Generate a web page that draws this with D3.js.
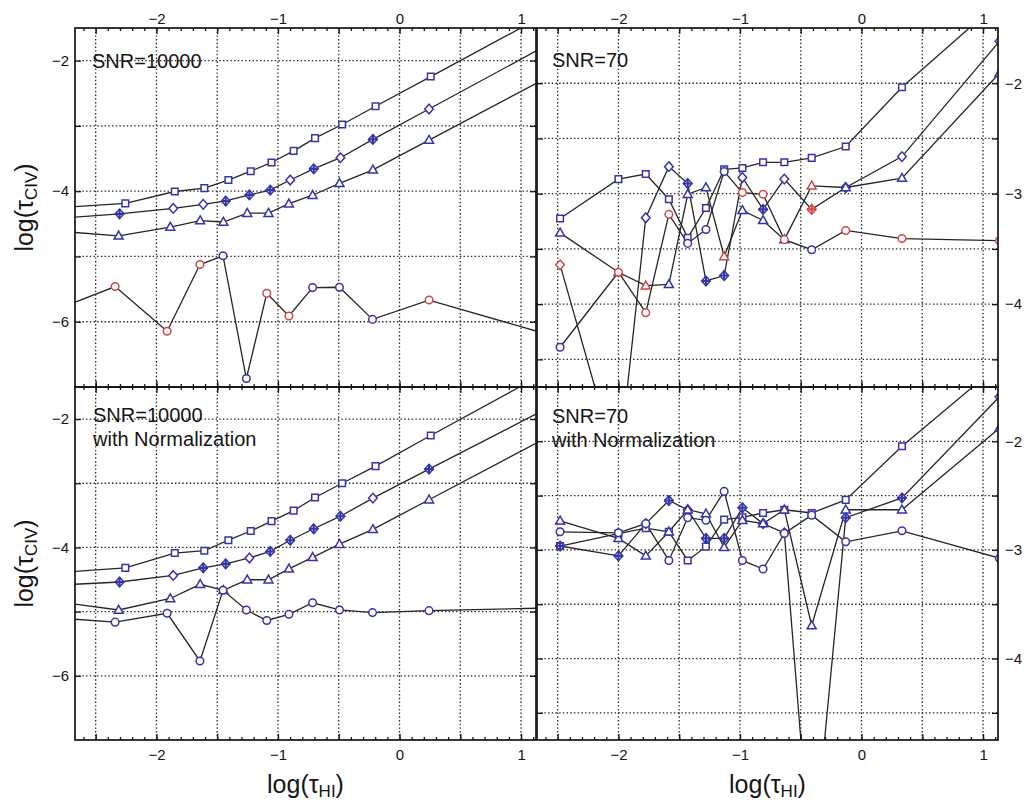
<!DOCTYPE html>
<html>
<head>
<meta charset="utf-8">
<script src="https://cdn.jsdelivr.net/npm/d3@7"></script>
<style>
  body { margin: 0; background: #fff; }
  svg { display: block; font-family: "Liberation Sans", Arial, Helvetica, sans-serif; }
</style>
</head>
<body>
<svg id="chart" width="1027" height="807"></svg>
<script>
// ---------------------------------------------------------------
// Binned log(tau_CIV) vs log(tau_HI) for four recovery set-ups.
// Left panels: the first and last bins sit outside the plotted range.
// ---------------------------------------------------------------
const xSquareL   = [-2.9, -2.256, -1.849, -1.606, -1.408, -1.224, -1.053, -0.871, -0.695, -0.472, -0.197, 0.257, 1.3];
const xDiamondL  = [-2.9, -2.303, -1.862, -1.615, -1.430, -1.235, -1.064, -0.899, -0.706, -0.486, -0.219, 0.243, 1.3];
const xTriangleL = [-2.9, -2.311, -1.886, -1.640, -1.449, -1.253, -1.078, -0.910, -0.715, -0.494, -0.219, 0.243, 1.3];
const xCircleL   = [-2.9, -2.340, -1.912, -1.642, -1.452, -1.260, -1.092, -0.910, -0.715, -0.494, -0.222, 0.243, 1.3];

// SNR = 10000
const ySquareTL   = [-4.264, -4.187, -4.005, -3.953, -3.829, -3.694, -3.560, -3.383, -3.187, -2.979, -2.699, -2.244, -1.197];
const yDiamondTL  = [-4.430, -4.347, -4.264, -4.202, -4.150, -4.057, -3.984, -3.829, -3.658, -3.487, -3.207, -2.741, -1.674];
const yTriangleTL = [-4.601, -4.684, -4.549, -4.451, -4.472, -4.337, -4.337, -4.192, -4.062, -3.881, -3.674, -3.218, -2.176];
const yCircleTL   = [-5.870, -5.461, -6.145, -5.124, -4.990, -6.870, -5.565, -5.912, -5.477, -5.472, -5.964, -5.668, -6.238];
const crossTL     = [1, 4, 5, 6, 8, 10];
const flagCircleTL = [0, 1, 1, 1, 0, 0, 1, 1, 0, 0, 0, 1, 0];

// SNR = 10000 with normalization
const ySquareBL   = [-4.404, -4.318, -4.087, -4.051, -3.887, -3.744, -3.590, -3.426, -3.221, -3.000, -2.733, -2.256, -1.175];
const yDiamondBL  = [-4.595, -4.538, -4.436, -4.318, -4.256, -4.164, -4.062, -3.887, -3.708, -3.513, -3.231, -2.779, -1.749];
const yTriangleBL = [-4.825, -4.974, -4.795, -4.574, -4.667, -4.503, -4.503, -4.333, -4.154, -3.949, -3.718, -3.256, -2.200];
const yCircleBL   = [-5.087, -5.164, -5.026, -5.769, -4.667, -4.974, -5.138, -5.041, -4.862, -4.974, -5.015, -4.985, -4.940];
const crossBL     = [1, 3, 4, 6, 7, 8, 9, 11];

// Right panels share one set of bins (last bin sits on the right edge)
const xBinR = [-2.48, -2.00, -1.775, -1.585, -1.43, -1.28, -1.13, -0.98, -0.81, -0.635, -0.41, -0.13, 0.333, 1.135];

// SNR = 70
const ySquareTR   = [-3.224, -2.868, -2.822, -3.050, -3.400, -3.130, -2.780, -2.767, -2.716, -2.716, -2.676, -2.573, -2.037, -1.260];
const yDiamondTR  = [-3.644, -5.500, -3.218, -2.755, -2.908, -3.790, -3.741, -2.853, -3.142, -2.868, -3.142, -2.944, -2.664, -1.620];
const yTriangleTR = [-3.355, -3.711, -3.833, -3.821, -3.005, -2.944, -3.568, -3.151, -3.242, -3.416, -2.929, -2.944, -2.859, -1.909];
const yCircleTR   = [-4.390, -3.711, -4.077, -3.187, -3.450, -3.324, -2.800, -2.990, -3.005, -3.416, -3.507, -3.333, -3.406, -3.425];
const crossTR     = [4, 5, 6, 8, 10, 11];
const flagDiamondTR  = [1, 0, 0, 0, 0, 0, 0, 0, 0, 0, 1, 0, 0, 0];
const flagTriangleTR = [0, 1, 1, 0, 0, 0, 1, 0, 0, 0, 1, 0, 0, 0];
const flagCircleTR   = [0, 1, 1, 1, 0, 0, 0, 1, 1, 1, 0, 1, 1, 1];

// SNR = 70 with normalization
const ySquareBR   = [-2.964, -2.850, -2.800, -2.833, -3.097, -2.970, -2.721, -2.700, -2.660, -2.630, -2.660, -2.539, -2.045, -1.293];
const yDiamondBR  = [-2.964, -3.055, -2.758, -2.545, -2.630, -2.894, -2.894, -2.612, -2.758, -2.843, -6.000, -2.703, -2.521, -1.590];
const yTriangleBR = [-2.733, -2.894, -3.055, -2.833, -2.630, -2.667, -2.976, -2.727, -2.758, -2.630, -3.697, -2.630, -2.630, -1.879];
const yCircleBR   = [-2.833, -2.843, -2.758, -3.097, -2.703, -2.727, -2.461, -3.097, -3.176, -2.848, -2.680, -2.925, -2.824, -3.076];
const crossBR     = [0, 1, 3, 5, 6, 7, 8, 11, 12];

// Axis values
const xDomain   = [-2.67, 1.123];
const xLabelVals = [-2, -1, 0, 1];
const xGridVals  = [-2.5, -2, -1.5, -1, -0.5, 0, 0.5, 1];
const xMinorVals = d3.range(-26, 12).map(v => v / 10);
const yGridLeft  = [-6, -5, -4, -3, -2];
const yLabelLeft = [-6, -4, -2];
const yGridRight = [-4.5, -4, -3.5, -3, -2.5, -2];
const yLabelRight = [-4, -3, -2];

// ---------------------------------------------------------------
const BLUE = "#3535aa", RED = "#d04848", INK = "#151515";
const intFmt = d3.format("d");
const svg = d3.select("#chart");

function series(shape, xs, ys, flags, cross) {
  return { shape, pts: xs.map((x, i) => ({ x, y: ys[i], red: flags ? !!flags[i] : false, cross: cross ? cross.includes(i) : false })) };
}

const panels = [
  { id: "tl", box: { l: 75, r: 536, t: 28, b: 387 }, yDomain: [-7, -1.5],
    yGrid: yGridLeft, yLabels: yLabelLeft, ySide: "left", xSide: "top",
    notes: ["SNR=10000"], note: [92, 68],
    data: [series("square", xSquareL, ySquareTL), series("diamond", xDiamondL, yDiamondTL, null, crossTL),
           series("triangle", xTriangleL, yTriangleTL), series("circle", xCircleL, yCircleTL, flagCircleTL)] },
  { id: "tr", box: { l: 537, r: 998, t: 28, b: 387 }, yDomain: [-4.75, -1.5],
    yGrid: yGridRight, yLabels: yLabelRight, ySide: "right", xSide: "top",
    notes: ["SNR=70"], note: [552, 67],
    data: [series("square", xBinR, ySquareTR), series("diamond", xBinR, yDiamondTR, flagDiamondTR, crossTR),
           series("triangle", xBinR, yTriangleTR, flagTriangleTR), series("circle", xBinR, yCircleTR, flagCircleTR)] },
  { id: "bl", box: { l: 75, r: 536, t: 387, b: 740 }, yDomain: [-7, -1.5],
    yGrid: yGridLeft, yLabels: yLabelLeft, ySide: "left", xSide: "bottom",
    notes: ["SNR=10000", "with Normalization"], note: [93, 422],
    data: [series("square", xSquareL, ySquareBL), series("diamond", xDiamondL, yDiamondBL, null, crossBL),
           series("triangle", xTriangleL, yTriangleBL), series("circle", xCircleL, yCircleBL)] },
  { id: "br", box: { l: 537, r: 998, t: 387, b: 740 }, yDomain: [-4.75, -1.5],
    yGrid: yGridRight, yLabels: yLabelRight, ySide: "right", xSide: "bottom",
    notes: ["SNR=70", "with Normalization"], note: [552, 423],
    data: [series("square", xBinR, ySquareBR), series("diamond", xBinR, yDiamondBR, null, crossBR),
           series("triangle", xBinR, yTriangleBR), series("circle", xBinR, yCircleBR)] }
];

const markerPath = {
  square: "M-3.3,-3.3H3.3V3.3H-3.3Z",
  circle: "M3.8,0A3.8,3.8 0 1,1 -3.8,0A3.8,3.8 0 1,1 3.8,0Z",
  triangle: "M0,-4.7L4.5,3.2L-4.5,3.2Z",
  diamond: "M0,-4.8L4.3,0L0,4.8L-4.3,0Z"
};
const crossPath = "M-4.7,0H4.7M0,-4.7V4.7";

function styleAxisText(g, anchor) {
  g.select(".domain").remove();
  g.selectAll("text").attr("font-size", 15).attr("fill", INK)
    .attr("font-family", "'Liberation Sans', Arial, sans-serif");
  if (anchor) g.selectAll("text").attr("text-anchor", anchor);
}
function styleTicks(g) {
  g.select(".domain").remove();
  g.selectAll("line").attr("stroke", INK).attr("stroke-width", 1.3);
}

panels.forEach(p => {
  const { l, r, t, b } = p.box;
  const x = d3.scaleLinear().domain(xDomain).range([l, r]);
  const y = d3.scaleLinear().domain(p.yDomain).range([b, t]);
  const g = svg.append("g").attr("class", "panel-" + p.id);

  g.append("clipPath").attr("id", "clip-" + p.id)
    .append("rect").attr("x", l).attr("y", t).attr("width", r - l).attr("height", b - t);

  // dotted grid
  const grid = g.append("g").attr("stroke", "#222").attr("stroke-width", 1.3)
    .attr("stroke-dasharray", "1.4,2.3");
  grid.selectAll("line.gx").data(xGridVals).join("line").attr("class", "gx")
    .attr("x1", d => x(d)).attr("x2", d => x(d)).attr("y1", t).attr("y2", b);
  grid.selectAll("line.gy").data(p.yGrid).join("line").attr("class", "gy")
    .attr("x1", l).attr("x2", r).attr("y1", d => y(d)).attr("y2", d => y(d));

  // panel annotation
  g.append("g").selectAll("text").data(p.notes).join("text")
    .attr("x", p.note[0]).attr("y", (d, i) => p.note[1] + i * 24)
    .attr("font-size", 20).attr("fill", INK).text(d => d);

  const plot = g.append("g").attr("clip-path", `url(#clip-${p.id})`);
  const line = d3.line().x(d => x(d.x)).y(d => y(d.y));

  plot.selectAll("path.series").data(p.data).join("path").attr("class", "series")
    .attr("d", s => line(s.pts)).attr("fill", "none")
    .attr("stroke", "#262626").attr("stroke-width", 1.3);

  p.data.forEach(s => {
    const mk = plot.append("g");
    mk.selectAll("path.m").data(s.pts).join("path").attr("class", "m")
      .attr("transform", d => `translate(${x(d.x)},${y(d.y)})`)
      .attr("d", markerPath[s.shape]).attr("fill", "#fff")
      .attr("stroke", d => d.red ? RED : BLUE).attr("stroke-width", 1.5);
    mk.selectAll("path.c").data(s.pts.filter(d => d.cross)).join("path").attr("class", "c")
      .attr("transform", d => `translate(${x(d.x)},${y(d.y)})`)
      .attr("d", crossPath).attr("fill", "none")
      .attr("stroke", d => d.red ? RED : BLUE).attr("stroke-width", 2.1);
  });

  // inward tick marks on all four sides
  [[t, d3.axisTop], [b, d3.axisBottom]].forEach(([yy, ax]) => {
    g.append("g").attr("transform", `translate(0,${yy})`)
      .call(ax(x).tickValues(xMinorVals).tickSize(-3).tickFormat("")).call(styleTicks);
    g.append("g").attr("transform", `translate(0,${yy})`)
      .call(ax(x).tickValues(xGridVals).tickSize(-6).tickFormat("")).call(styleTicks);
  });
  g.append("g").attr("transform", `translate(${l},0)`)
    .call(d3.axisLeft(y).tickValues(p.yGrid).tickSize(-6).tickFormat("")).call(styleTicks);
  g.append("g").attr("transform", `translate(${r},0)`)
    .call(d3.axisRight(y).tickValues(p.yGrid).tickSize(-6).tickFormat("")).call(styleTicks);

  // tick labels
  if (p.xSide === "top") {
    g.append("g").attr("transform", `translate(0,${t})`)
      .call(d3.axisTop(x).tickValues(xLabelVals).tickFormat(intFmt).tickSize(0).tickPadding(4))
      .call(g2 => styleAxisText(g2));
  } else {
    g.append("g").attr("transform", `translate(0,${b})`)
      .call(d3.axisBottom(x).tickValues(xLabelVals).tickFormat(intFmt).tickSize(0).tickPadding(9))
      .call(g2 => styleAxisText(g2));
  }
  if (p.ySide === "left") {
    g.append("g").attr("transform", `translate(${l},0)`)
      .call(d3.axisLeft(y).tickValues(p.yLabels).tickFormat(intFmt).tickSize(0).tickPadding(6))
      .call(g2 => styleAxisText(g2, "end"));
  } else {
    g.append("g").attr("transform", `translate(${r},0)`)
      .call(d3.axisRight(y).tickValues(p.yLabels).tickFormat(intFmt).tickSize(0).tickPadding(7))
      .call(g2 => styleAxisText(g2, "start"));
  }

  // frame
  g.append("rect").attr("x", l).attr("y", t).attr("width", r - l).attr("height", b - t)
    .attr("fill", "none").attr("stroke", INK).attr("stroke-width", 1.7);
});

// axis titles
function title(sel, base, sub) {
  sel.append("tspan").text(base + "τ");
  sel.append("tspan").attr("font-size", 17).attr("dy", 4).text(sub);
  sel.append("tspan").attr("dy", -4).text(")");
}
[305.5, 767.5].forEach(cx => {
  svg.append("text").attr("x", cx).attr("y", 793).attr("text-anchor", "middle")
    .attr("font-size", 25).attr("fill", INK).call(s => title(s, "log(", "HI"));
});
[207.5, 563.5].forEach(cy => {
  svg.append("text").attr("transform", `translate(33,${cy}) rotate(-90)`).attr("text-anchor", "middle")
    .attr("font-size", 25).attr("fill", INK).call(s => title(s, "log(", "CIV"));
});
</script>
</body>
</html>
